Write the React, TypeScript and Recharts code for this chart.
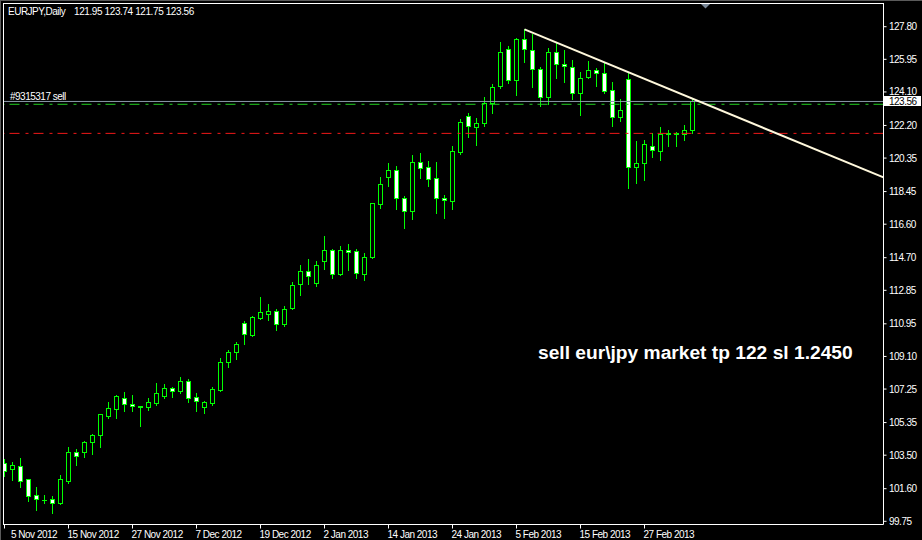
import React from 'react';
import { ComposedChart, Bar, XAxis, YAxis, ReferenceLine } from 'recharts';

// ---- data (EURJPY daily, 5 Nov 2012 .. 7 Mar 2013) ----
const OPEN = [
  103.04, 102.69, 102.88, 102.15, 101.22, 100.97, 100.99, 100.77, 102.03, 103.66,
  103.69, 104.23, 104.62, 105.74, 106.13, 106.72, 106.38, 106.29, 106.25, 106.47,
  106.87, 107.29, 107.15, 107.69, 106.78, 106.25, 106.47, 107.21, 108.76, 109.33,
  110.98, 110.33, 111.29, 111.52, 111.67, 110.95, 111.86, 113.19, 113.94, 113.28,
  114.53, 115.13, 113.76, 115.13, 115.08, 113.79, 114.72, 117.73, 119.26, 119.65,
  118.07, 117.36, 120.11, 119.83, 119.2, 118.1, 117.93, 120.71, 122.72, 122.13,
  122.32, 123.46, 124.44, 126.54, 124.76, 127.09, 126.5, 125.38, 123.83, 126.35,
  125.67, 125.5, 124.02, 124.93, 125.34, 125.16, 124.21, 122.7, 124.82, 119.82,
  120.05, 121.05, 120.75, 121.75, 121.72, 121.7, 121.95,
];
const HIGH = [
  103.28, 103.11, 103.34, 102.17, 101.69, 101.22, 101.2, 102.37, 103.96, 103.83,
  104.3, 104.7, 105.83, 106.51, 106.91, 107.06, 106.91, 106.31, 106.72, 107.59,
  107.53, 107.35, 107.91, 107.8, 107.01, 106.59, 107.35, 108.99, 109.46, 109.9,
  111.11, 111.39, 112.47, 112.07, 111.8, 111.96, 113.3, 114.28, 114.62, 114.51,
  115.93, 115.18, 115.36, 115.47, 115.19, 114.96, 117.8, 119.29, 120.07, 119.9,
  118.2, 120.52, 120.64, 120.18, 120.11, 118.25, 121.03, 122.56, 122.9, 122.62,
  123.8, 124.53, 126.92, 126.72, 127.14, 127.65, 127.39, 125.53, 126.57, 126.86,
  126.48, 125.91, 125.23, 125.85, 125.44, 125.81, 124.66, 123.7, 125.16, 121.32,
  121.37, 121.75, 122.11, 121.94, 121.84, 122.22, 123.74,
];
const LOW = [
  102.31, 102.09, 101.71, 100.91, 100.39, 100.8, 100.23, 100.75, 101.92, 102.96,
  103.41, 103.58, 103.98, 105.62, 105.62, 106.02, 106.0, 105.15, 106.06, 106.34,
  106.76, 106.81, 107.04, 106.53, 106.02, 105.91, 106.36, 107.12, 108.51, 108.95,
  109.82, 110.27, 111.24, 111.16, 110.62, 110.8, 111.79, 112.58, 113.21, 113.09,
  114.06, 113.56, 113.7, 114.02, 113.56, 113.45, 114.7, 117.53, 118.78, 117.46,
  116.4, 116.89, 119.24, 118.78, 117.25, 116.97, 117.46, 120.6, 121.53, 121.09,
  122.17, 122.89, 124.31, 124.59, 123.94, 125.81, 124.4, 123.32, 123.4, 124.91,
  124.68, 123.7, 122.81, 124.91, 124.45, 124.06, 122.18, 122.47, 118.63, 118.92,
  119.1, 120.43, 120.24, 121.05, 121.05, 121.37, 121.75,
];
const CLOSE = [
  102.62, 102.94, 102.05, 101.2, 100.99, 100.95, 100.77, 102.13, 103.66, 103.47,
  104.24, 104.62, 105.81, 106.16, 106.85, 106.38, 106.27, 106.25, 106.51, 107.01,
  107.29, 107.15, 107.69, 106.76, 106.55, 106.5, 107.23, 108.76, 109.33, 109.79,
  110.35, 111.32, 111.6, 111.66, 110.95, 111.78, 113.15, 113.94, 113.68, 114.28,
  115.13, 113.76, 115.13, 115.05, 113.81, 114.74, 117.78, 118.86, 119.65, 118.07,
  117.36, 120.11, 119.77, 119.18, 118.1, 117.95, 120.73, 122.38, 122.17, 122.32,
  123.46, 124.4, 126.38, 124.76, 127.09, 126.52, 125.38, 123.8, 126.35, 125.67,
  125.55, 124.02, 124.87, 125.34, 125.19, 124.17, 122.7, 123.08, 119.82, 120.05,
  121.13, 120.81, 121.7, 121.7, 121.76, 121.92, 123.56,
];

const DATE_TICK_BARS = [0, 8, 16, 24, 32, 40, 48, 56, 64, 72, 80];
const DATE_TICK_LABELS = [
  '5 Nov 2012', '15 Nov 2012', '27 Nov 2012', '7 Dec 2012', '19 Dec 2012', '2 Jan 2013',
  '14 Jan 2013', '24 Jan 2013', '5 Feb 2013', '15 Feb 2013', '27 Feb 2013',
];
const PRICE_TICKS = [
  127.8, 125.95, 124.1, 122.2, 120.35, 118.45, 116.6, 114.7, 112.85, 110.95, 109.1,
  107.25, 105.35, 103.5, 101.6, 99.75,
];
const BID = 123.56;
const ORDER_PRICE = 123.4;
const ORDER_LABEL = '#9315317 sell';
const STOP_PRICE = 121.75;
const TREND_FROM = { bar: 65, price: 127.65 };
const TREND_THROUGH = { bar: 86, price: 123.72 };
const SYMBOL = 'EURJPY,Daily';
const LAST_OHLC = [121.95, 123.74, 121.75, 123.56];
const NOTE = 'sell eur\\jpy market tp 122 sl 1.2450';

const X_DOMAIN: [number, number] = [-0.125, 109.875];
const Y_DOMAIN: [number, number] = [99.569, 129.116];

// ---- styles ----
const GREEN = '#00FF00';
const FONT = "'Liberation Sans', Arial, sans-serif";

const data = OPEN.map((o, i) => ({
  i,
  o,
  h: HIGH[i],
  l: LOW[i],
  c: CLOSE[i],
  range: [LOW[i], HIGH[i]],
}));

const trendSlope = (TREND_THROUGH.price - TREND_FROM.price) / (TREND_THROUGH.bar - TREND_FROM.bar);
const trendEnd = { x: X_DOMAIN[1], y: TREND_FROM.price + (X_DOMAIN[1] - TREND_FROM.bar) * trendSlope };

const Candle = (props: any) => {
  const { x, y, width, height } = props;
  const p = props.payload || props;
  const { o, h, l, c } = p;
  const top = Math.min(y, y + height);
  const bot = Math.max(y, y + height);
  const span = h - l;
  const k = span > 0 ? (bot - top) / span : 0;
  const py = (v: number) => top + (h - v) * k;
  const cx = Math.round(x + width / 2 - 0.5) + 0.5;
  const yo = py(o);
  const yc = py(c);
  const bTop = Math.round(Math.min(yo, yc)) + 0.5;
  const bBot = Math.round(Math.max(yo, yc)) + 0.5;
  const bull = c >= o;
  return (
    <g>
      <line x1={cx} x2={cx} y1={Math.round(top)} y2={Math.round(bot) + 1} stroke={GREEN} strokeWidth={1} />
      {bBot - bTop < 1 ? (
        <line x1={cx - 2.5} x2={cx + 2.5} y1={bTop} y2={bTop} stroke={GREEN} strokeWidth={1} />
      ) : (
        <rect x={cx - 2} y={bTop} width={4} height={bBot - bTop} fill={bull ? '#000' : '#fff'} stroke={GREEN} strokeWidth={1} />
      )}
    </g>
  );
};

const DateTick = (props: any) => {
  const { x, y, payload } = props;
  const idx = DATE_TICK_BARS.indexOf(payload.value);
  const label = idx >= 0 ? DATE_TICK_LABELS[idx] : '';
  return (
    <text x={Math.max(x - 1, 11)} y={y + 7} fill="#fff" fontFamily={FONT} fontSize={10} letterSpacing={-0.5} textAnchor="start">
      {label}
    </text>
  );
};

const PriceTick = (props: any) => {
  const { x, y, payload } = props;
  const v = payload.value as number;
  if (v === BID) {
    return (
      <g>
        <rect x={884} y={Math.round(y) - 5} width={37} height={10} fill="#fff" />
        <text x={x} y={y + 3.5} fill="#000" fontFamily={FONT} fontSize={10} letterSpacing={-0.5} textAnchor="start">
          {v.toFixed(2)}
        </text>
      </g>
    );
  }
  return (
    <text x={x} y={y + 3.5} fill="#fff" fontFamily={FONT} fontSize={10} letterSpacing={-0.5} textAnchor="start">
      {v.toFixed(2)}
    </text>
  );
};

const OrderLabel = (props: any) => {
  const vb = props.viewBox || {};
  return (
    <text x={(vb.x || 0) + 6.5} y={(vb.y || 0) - 4} fill="#fff" fontFamily={FONT} fontSize={10} letterSpacing={-0.5}>
      {ORDER_LABEL}
    </text>
  );
};

export default function App() {
  return (
    <div style={{ position: 'absolute', left: 0, top: 0, width: 922, height: 540, background: '#000', overflow: 'hidden' }}>
      <ComposedChart
        width={922}
        height={540}
        data={data}
        margin={{ top: 3.5, right: 0, bottom: 0, left: 3.5 }}
        style={{ background: '#000' }}
      >
        <XAxis
          dataKey="i"
          type="number"
          domain={X_DOMAIN}
          allowDataOverflow
          ticks={DATE_TICK_BARS}
          interval={0}
          height={15.5}
          tickSize={4}
          tickMargin={2}
          axisLine={{ stroke: '#fff' }}
          tickLine={{ stroke: '#fff' }}
          tick={(p: any) => <DateTick {...p} />}
        />
        <YAxis
          orientation="right"
          type="number"
          domain={Y_DOMAIN}
          allowDataOverflow
          ticks={[...PRICE_TICKS, BID]}
          interval={0}
          width={38.5}
          tickSize={3}
          tickMargin={2.5}
          axisLine={{ stroke: '#fff' }}
          tickLine={{ stroke: '#fff' }}
          tick={(p: any) => <PriceTick {...p} />}
        />
        <ReferenceLine y={STOP_PRICE} stroke="#F01818" strokeDasharray="10 5 3 6" ifOverflow="hidden" />
        <ReferenceLine y={BID} stroke="#8C99AA" ifOverflow="hidden" />
        <ReferenceLine
          y={ORDER_PRICE}
          stroke="#1FCF1F"
          strokeDasharray="10 5 3 6"
          ifOverflow="hidden"
          label={(p: any) => <OrderLabel {...p} />}
        />
        <Bar dataKey="range" barSize={5} isAnimationActive={false} shape={(p: any) => <Candle {...p} />} />
        <ReferenceLine
          segment={[{ x: TREND_FROM.bar, y: TREND_FROM.price }, trendEnd]}
          stroke="#FFF8DC"
          strokeWidth={2}
          ifOverflow="hidden"
        />
      </ComposedChart>
      <svg width={922} height={540} style={{ position: 'absolute', left: 0, top: 0, pointerEvents: 'none' }}>
        <rect x={0} y={0} width={3} height={540} fill="#000" />
        <line x1={0.5} y1={0} x2={0.5} y2={540} stroke="#5a5a5a" />
        <line x1={0} y1={0.5} x2={922} y2={0.5} stroke="#5a5a5a" />
        <line x1={3.5} y1={3} x2={3.5} y2={525} stroke="#fff" />
        <line x1={3} y1={3.5} x2={884} y2={3.5} stroke="#fff" />
        <polygon points="701,4 710,4 705.5,8.5" fill="#7A8898" />
        <text x={8} y={15} fill="#fff" fontFamily={FONT} fontSize={10} letterSpacing={-0.5}>
          {SYMBOL}
        </text>
        <text x={74} y={15} fill="#fff" fontFamily={FONT} fontSize={10} letterSpacing={-0.4}>
          {LAST_OHLC.map((v) => v.toFixed(2)).join(' ')}
        </text>
        <text x={538} y={359} fill="#fff" fontFamily={FONT} fontSize={19.2} fontWeight="bold">
          {NOTE}
        </text>
      </svg>
    </div>
  );
}
